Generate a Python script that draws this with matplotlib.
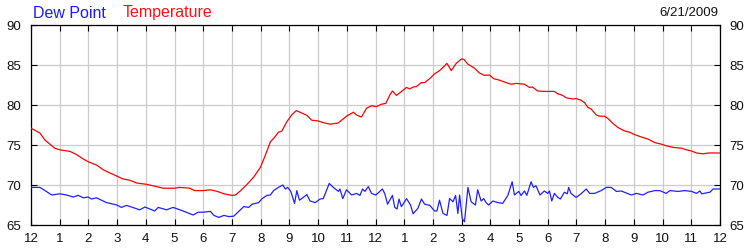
import matplotlib
matplotlib.use("Agg")
import matplotlib.pyplot as plt

# ---- data (hours since midnight, degrees F) ----
temp_hours = [0.0, 0.31, 0.49, 0.66, 0.83, 1.0, 1.36, 1.59, 1.82, 2.0, 2.28, 2.52, 2.75, 3.0,
              3.21, 3.44, 3.68, 4.0, 4.26, 4.6, 5.0, 5.18, 5.53, 5.7, 6.0,
              6.25, 6.49, 6.72, 7.0, 7.12, 7.29, 7.53, 7.76, 7.99, 8.16, 8.34, 8.47, 8.62, 8.74,
              8.91, 9.09, 9.24, 9.43, 9.61, 9.78, 10.01, 10.18, 10.42, 10.7, 10.99, 11.23, 11.34,
              11.51, 11.69, 11.86,
              12.03, 12.21, 12.36, 12.5, 12.59, 12.73, 12.84, 13.08, 13.19, 13.31, 13.42, 13.6,
              13.71, 13.89, 14.06, 14.23, 14.35, 14.49, 14.64, 14.81, 14.99, 15.08, 15.22, 15.45,
              15.62, 15.8, 15.97, 16.11, 16.32, 16.55, 16.72, 16.9, 17.19, 17.36, 17.47, 17.65, 17.88,
              18.23, 18.35, 18.52, 18.64, 18.87, 18.99, 19.16, 19.28, 19.4, 19.51, 19.69, 19.8,
              19.98, 20.1, 20.27, 20.44, 20.68, 20.85, 21.03, 21.26, 21.49, 21.73, 21.96, 22.13,
              22.37, 22.66, 22.83, 23.01, 23.18, 23.41, 23.59, 24.0]
temperature = [77.1, 76.5, 75.6, 75.1, 74.6, 74.4, 74.2, 73.8, 73.25, 72.9, 72.5, 71.9, 71.5, 71.1,
               70.75, 70.6, 70.25, 70.1, 69.9, 69.6, 69.6, 69.7, 69.6, 69.3, 69.3,
               69.4, 69.2, 68.9, 68.7, 68.75, 69.25, 70.1, 71.0, 72.2, 73.7, 75.4, 75.9, 76.6, 76.75,
               77.9, 78.8, 79.3, 79.0, 78.7, 78.1, 78.0, 77.8, 77.6, 77.75, 78.6, 79.1, 78.75,
               78.5, 79.6, 79.9,
               79.8, 80.1, 80.2, 81.25, 81.75, 81.2, 81.5, 82.2, 82.0, 82.25, 82.3, 82.8,
               82.8, 83.3, 83.9, 84.3, 84.7, 85.2, 84.3, 85.2, 85.75, 85.7, 85.1, 84.6,
               84.0, 83.7, 83.75, 83.3, 83.1, 82.8, 82.6, 82.7, 82.6, 82.2, 82.25, 81.75, 81.7,
               81.7, 81.4, 81.2, 80.9, 80.75, 80.8, 80.6, 80.3, 79.7, 79.5, 78.75, 78.6,
               78.6, 78.3, 77.7, 77.2, 76.75, 76.6, 76.3, 76.0, 75.75, 75.3, 75.1, 74.9,
               74.7, 74.6, 74.4, 74.25, 74.0, 73.9, 74.0, 74.0]

dew_hours = [0.0, 0.31, 0.49, 0.72, 1.0, 1.24, 1.47, 1.65, 1.82, 1.99, 2.11, 2.28, 2.63, 2.99,
             3.15, 3.33, 3.79, 3.97, 4.31, 4.43, 4.72, 4.95, 5.3, 5.65, 5.82, 6.0,
             6.25, 6.37, 6.54, 6.72, 6.89, 7.06, 7.18, 7.41, 7.58, 7.7, 7.93, 8.05, 8.22, 8.34,
             8.45, 8.62, 8.77, 8.86, 8.94, 9.05, 9.18, 9.26, 9.35, 9.43, 9.61, 9.72, 9.9, 10.07,
             10.18, 10.28, 10.39, 10.53, 10.71, 10.76, 10.86, 10.99, 11.17, 11.34, 11.46, 11.55,
             11.63, 11.75, 11.86,
             12.01, 12.09, 12.24, 12.32, 12.42, 12.59, 12.67, 12.75, 12.82, 12.9, 12.96, 13.08,
             13.22, 13.31, 13.48, 13.6, 13.71, 13.89, 14.06, 14.14, 14.23, 14.35, 14.49, 14.58,
             14.7, 14.79, 14.87, 14.93, 15.02, 15.1, 15.22, 15.33, 15.48, 15.56, 15.68, 15.77,
             15.85, 15.94, 16.09, 16.26, 16.43, 16.61, 16.76, 16.84, 16.99, 17.07, 17.19, 17.27,
             17.42, 17.5, 17.59, 17.73, 17.88,
             18.0, 18.06, 18.14, 18.23, 18.35, 18.44, 18.58, 18.68, 18.73, 18.81, 18.99, 19.16,
             19.34, 19.46, 19.63, 19.86, 20.04, 20.21, 20.39, 20.56, 20.91, 21.09, 21.32, 21.49,
             21.73, 21.9, 22.13, 22.25, 22.54, 22.77, 23.01, 23.18, 23.3, 23.36, 23.65, 23.76, 24.0]
dew_point = [69.7, 69.7, 69.3, 68.75, 68.9, 68.75, 68.5, 68.7, 68.4, 68.5, 68.25, 68.4, 67.8, 67.5,
             67.2, 67.45, 66.9, 67.25, 66.75, 67.2, 66.9, 67.2, 66.75, 66.25, 66.6, 66.6,
             66.7, 66.2, 65.95, 66.2, 66.05, 66.1, 66.5, 67.3, 67.2, 67.6, 67.8, 68.3, 68.7, 68.75,
             69.3, 69.7, 70.0, 69.5, 69.7, 69.2, 67.7, 69.3, 68.1, 68.3, 68.8, 68.0, 67.8, 68.25,
             68.3, 69.2, 70.2, 69.7, 69.2, 69.5, 68.3, 69.4, 68.75, 68.95, 68.7, 69.5,
             69.2, 69.8, 68.95,
             68.75, 69.0, 69.5, 68.95, 67.6, 68.7, 67.2, 67.0, 68.25, 67.3, 67.6, 68.3,
             67.5, 66.4, 67.1, 68.25, 67.6, 67.45, 66.75, 66.75, 68.1, 66.45, 66.2, 68.3,
             67.9, 68.7, 66.45, 68.75, 65.8, 65.4, 69.7, 67.9, 67.5, 69.4, 68.0, 68.3,
             67.8, 67.5, 68.0, 67.8, 67.7, 68.7, 70.4, 68.75, 69.2, 68.7, 69.25, 68.7,
             70.4, 69.7, 69.9, 68.75, 69.25,
             68.95, 69.25, 68.0, 68.95, 68.45, 68.25, 69.1, 68.9, 69.7, 68.95, 68.45, 68.9,
             69.5, 68.95, 68.95, 69.3, 69.7, 69.7, 69.2, 69.25, 68.75, 68.95, 68.75, 69.1,
             69.3, 69.3, 68.95, 69.3, 69.2, 69.3, 69.2, 68.95, 69.25, 68.9, 69.1, 69.5, 69.5]

hour_ticks = list(range(0, 25))
hour_labels = ["12", "1", "2", "3", "4", "5", "6", "7", "8", "9", "10", "11",
               "12", "1", "2", "3", "4", "5", "6", "7", "8", "9", "10", "11", "12"]
y_ticks = [65, 70, 75, 80, 85, 90]
date_label = "6/21/2009"

plt.rcParams['font.family'] = ['Liberation Sans', 'DejaVu Sans']

fig = plt.figure(figsize=(7.5, 2.5), dpi=100)
ax = fig.add_axes([31 / 750, 25 / 250, 689 / 750, 200 / 250])

ax.plot(temp_hours, temperature, color='#ff0000', lw=0.9, zorder=3)
ax.plot(dew_hours, dew_point, color='#2020ff', lw=0.9, zorder=3)

ax.set_xlim(0, 24)
ax.set_ylim(65, 90)
ax.set_xticks(hour_ticks)
ax.set_xticklabels(hour_labels)
ax.set_yticks(y_ticks)
ax.grid(True, color='#cccccc', lw=0.9, zorder=0)
ax.set_axisbelow(True)

ax.tick_params(axis='both', direction='in', length=4.5, width=0.8, color='black',
               labelsize=9.5, labelcolor='#111111')
ax.tick_params(axis='x', top=True, bottom=True, pad=6)
ax.tick_params(axis='y', left=True, right=True, labelleft=True, labelright=True, pad=7)
for s in ax.spines.values():
    s.set_linewidth(0.9)
    s.set_color('black')

fig.text(33 / 750, 1 - 13 / 250, "Dew Point", color='#1a1aff', fontsize=11.5, va='center', ha='left')
fig.text(123 / 750, 1 - 13 / 250, "Temperature", color='#ff1010', fontsize=11.5, va='center', ha='left')
fig.text(718 / 750, 1 - 13 / 250, date_label, color='#111111', fontsize=9.5, va='center', ha='right')

fig.savefig("out.png", dpi=100)
